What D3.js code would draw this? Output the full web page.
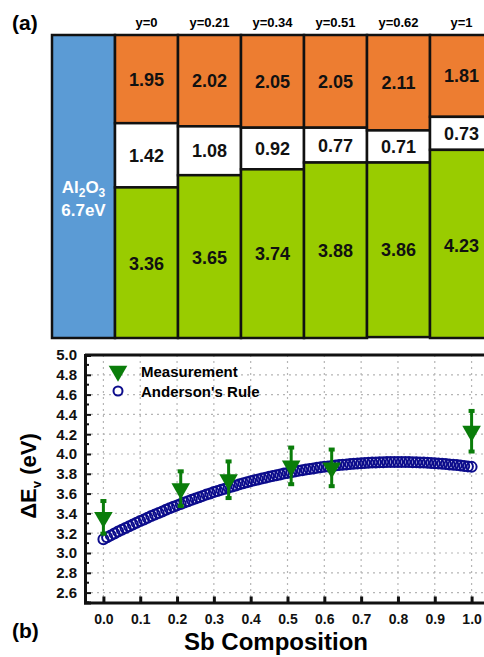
<!DOCTYPE html>
<html>
<head>
<meta charset="utf-8">
<script src="https://cdn.jsdelivr.net/npm/d3@7"></script>
<style>
  body { margin: 0; background: #fff; }
  svg { display: block; font-family: "Liberation Sans", Arial, sans-serif; }
</style>
</head>
<body>
<div id="chart"></div>
<script>
// ---- data (a): band alignment per Sb composition ----
const columns = ["y=0", "y=0.21", "y=0.34", "y=0.51", "y=0.62", "y=1"];
const conductionOffset = [1.95, 2.02, 2.05, 2.05, 2.11, 1.81];
const bandGap = [1.42, 1.08, 0.92, 0.77, 0.71, 0.73];
const valenceOffset = [3.36, 3.65, 3.74, 3.88, 3.86, 4.23];
const oxideGap = 6.7;

// ---- data (b): valence band offset vs Sb composition ----
const measX = [0, 0.21, 0.34, 0.51, 0.62, 1.0];
const measY = [3.36, 3.65, 3.74, 3.88, 3.86, 4.23];
const measErr = [0.17, 0.18, 0.19, 0.19, 0.19, 0.21];

const andersonX = [0.00, 0.01, 0.02, 0.03, 0.04, 0.05, 0.06, 0.07, 0.08, 0.09,
  0.10, 0.11, 0.12, 0.13, 0.14, 0.15, 0.16, 0.17, 0.18, 0.19,
  0.20, 0.21, 0.22, 0.23, 0.24, 0.25, 0.26, 0.27, 0.28, 0.29,
  0.30, 0.31, 0.32, 0.33, 0.34, 0.35, 0.36, 0.37, 0.38, 0.39,
  0.40, 0.41, 0.42, 0.43, 0.44, 0.45, 0.46, 0.47, 0.48, 0.49,
  0.50, 0.51, 0.52, 0.53, 0.54, 0.55, 0.56, 0.57, 0.58, 0.59,
  0.60, 0.61, 0.62, 0.63, 0.64, 0.65, 0.66, 0.67, 0.68, 0.69,
  0.70, 0.71, 0.72, 0.73, 0.74, 0.75, 0.76, 0.77, 0.78, 0.79,
  0.80, 0.81, 0.82, 0.83, 0.84, 0.85, 0.86, 0.87, 0.88, 0.89,
  0.90, 0.91, 0.92, 0.93, 0.94, 0.95, 0.96, 0.97, 0.98, 0.99, 1.00];
const andersonY = [3.140, 3.159, 3.178, 3.197, 3.216, 3.234, 3.252, 3.270, 3.288, 3.305,
  3.323, 3.339, 3.356, 3.373, 3.389, 3.405, 3.420, 3.436, 3.451, 3.466,
  3.481, 3.495, 3.509, 3.523, 3.537, 3.551, 3.564, 3.577, 3.590, 3.602,
  3.615, 3.627, 3.638, 3.650, 3.661, 3.672, 3.683, 3.694, 3.704, 3.714,
  3.724, 3.734, 3.743, 3.752, 3.761, 3.770, 3.778, 3.786, 3.794, 3.802,
  3.809, 3.816, 3.823, 3.830, 3.837, 3.843, 3.849, 3.854, 3.860, 3.865,
  3.870, 3.875, 3.879, 3.884, 3.888, 3.891, 3.895, 3.898, 3.901, 3.904,
  3.907, 3.909, 3.911, 3.913, 3.914, 3.916, 3.917, 3.918, 3.918, 3.919,
  3.919, 3.919, 3.918, 3.918, 3.917, 3.916, 3.914, 3.913, 3.911, 3.909,
  3.907, 3.904, 3.901, 3.898, 3.895, 3.891, 3.888, 3.884, 3.879, 3.875, 3.870];

const yTicks = [2.6, 2.8, 3.0, 3.2, 3.4, 3.6, 3.8, 4.0, 4.2, 4.4, 4.6, 4.8, 5.0];
const xTicks = [0, 0.1, 0.2, 0.3, 0.4, 0.5, 0.6, 0.7, 0.8, 0.9, 1.0];

const width = 484, height = 657;
const svg = d3.select("#chart").append("svg")
  .attr("width", width)
  .attr("height", height);

// =================== panel (a) ===================
const topA = 35, bottomA = 338;
const xBand = d3.scaleBand()
  .domain(["oxide"].concat(columns))
  .range([52, 52 + 63 * 7])
  .padding(0);
const eScale = d3.scaleLinear().domain([0, oxideGap]).range([0, bottomA - topA]);

const colors = { cb: "#ED7D31", gap: "#FFFFFF", vb: "#99CC00", oxide: "#5B9BD5" };

// oxide column
svg.append("rect")
  .attr("x", xBand("oxide"))
  .attr("y", topA)
  .attr("width", xBand.bandwidth())
  .attr("height", eScale(oxideGap))
  .attr("fill", colors.oxide)
  .attr("stroke", "#111")
  .attr("stroke-width", 2.5);

const oxText = svg.append("text")
  .attr("x", xBand("oxide") + xBand.bandwidth() / 2)
  .attr("y", 193)
  .attr("text-anchor", "middle")
  .attr("fill", "#fff")
  .style("font-weight", "bold")
  .style("font-size", "17px");
oxText.append("tspan").text("Al");
oxText.append("tspan").text("2").attr("dy", 4).style("font-size", "12px");
oxText.append("tspan").text("O").attr("dy", -4);
oxText.append("tspan").text("3").attr("dy", 4).style("font-size", "12px");
svg.append("text")
  .attr("x", xBand("oxide") + xBand.bandwidth() / 2)
  .attr("y", 216)
  .attr("text-anchor", "middle")
  .attr("fill", "#fff")
  .style("font-weight", "bold")
  .style("font-size", "17px")
  .text("6.7eV");

// stacked bands from the top
const bands = [];
columns.forEach((c, i) => {
  const parts = [
    { key: "cb", v: conductionOffset[i] },
    { key: "gap", v: bandGap[i] },
    { key: "vb", v: valenceOffset[i] }
  ];
  let acc = 0;
  parts.forEach(p => {
    bands.push({ col: c, key: p.key, v: p.v, start: acc });
    acc += p.v;
  });
});

const bandG = svg.append("g");
bandG.selectAll("rect")
  .data(bands)
  .enter().append("rect")
  .attr("x", d => xBand(d.col))
  .attr("y", d => topA + eScale(d.start))
  .attr("width", xBand.bandwidth())
  .attr("height", d => Math.min(eScale(d.v), bottomA - topA - eScale(d.start)))
  .attr("fill", d => colors[d.key])
  .attr("stroke", "#111")
  .attr("stroke-width", 2.5);

bandG.selectAll("text")
  .data(bands)
  .enter().append("text")
  .attr("x", d => xBand(d.col) + xBand.bandwidth() / 2)
  .attr("y", d => topA + eScale(d.start + d.v / 2))
  .attr("dy", "0.36em")
  .attr("text-anchor", "middle")
  .style("font-weight", "bold")
  .style("font-size", "18px")
  .attr("fill", "#111")
  .text(d => d.v.toFixed(2));

svg.selectAll(".colhead")
  .data(columns)
  .enter().append("text")
  .attr("class", "colhead")
  .attr("x", d => xBand(d) + xBand.bandwidth() / 2)
  .attr("y", 27)
  .attr("text-anchor", "middle")
  .style("font-weight", "bold")
  .style("font-size", "13px")
  .text(d => d);

svg.append("text")
  .attr("x", 12).attr("y", 30)
  .style("font-weight", "bold").style("font-size", "21px")
  .text("(a)");

// =================== panel (b) ===================
const x = d3.scaleLinear().domain([-0.05, 1.05]).range([85, 490]);
const y = d3.scaleLinear().domain([2.5, 5.0]).range([602.5, 355]);

const grid = svg.append("g")
  .attr("stroke", "#b5b5b5")
  .attr("stroke-width", 1.2)
  .attr("stroke-dasharray", "2,4");
grid.selectAll(".gx")
  .data(xTicks)
  .enter().append("line")
  .attr("x1", d => x(d)).attr("x2", d => x(d))
  .attr("y1", y(5.0)).attr("y2", y(2.5));
grid.selectAll(".gy")
  .data(yTicks.filter(t => t < 5))
  .enter().append("line")
  .attr("x1", x(-0.05)).attr("x2", x(1.05))
  .attr("y1", d => y(d)).attr("y2", d => y(d));

// x axis (ticks inward)
const xAxis = svg.append("g")
  .attr("transform", `translate(0,${y(2.5)})`)
  .call(d3.axisBottom(x).tickValues(xTicks).tickSize(-6).tickPadding(12)
    .tickFormat(d3.format(".1f")));
xAxis.select(".domain").attr("stroke-width", 3).attr("stroke", "#111");
xAxis.selectAll(".tick line").attr("stroke-width", 3).attr("stroke", "#111");
xAxis.selectAll("text")
  .style("font-size", "14px").style("font-weight", "bold").attr("fill", "#111");

// y axis (ticks inward)
const yAxis = svg.append("g")
  .attr("transform", `translate(${x(-0.05)},0)`)
  .call(d3.axisLeft(y).tickValues(yTicks).tickSize(-6).tickPadding(8)
    .tickFormat(d3.format(".1f")));
yAxis.select(".domain").attr("stroke-width", 3).attr("stroke", "#111");
yAxis.selectAll(".tick line").attr("stroke-width", 2).attr("stroke", "#111");
yAxis.selectAll("text")
  .style("font-size", "15px").style("font-weight", "bold").attr("fill", "#111");
// minor ticks
svg.append("g").selectAll("line")
  .data(yTicks.map(t => t - 0.1))
  .enter().append("line")
  .attr("x1", x(-0.05)).attr("x2", x(-0.05) + 4)
  .attr("y1", d => y(d)).attr("y2", d => y(d))
  .attr("stroke", "#111").attr("stroke-width", 2);

// top frame line
svg.append("line")
  .attr("x1", x(-0.05)).attr("x2", x(1.05))
  .attr("y1", y(5.0)).attr("y2", y(5.0))
  .attr("stroke", "#111").attr("stroke-width", 3);

// Anderson's rule circles
svg.append("g").selectAll("circle")
  .data(andersonX.map((v, i) => [v, andersonY[i]]))
  .enter().append("circle")
  .attr("cx", d => x(d[0]))
  .attr("cy", d => y(d[1]))
  .attr("r", 5)
  .attr("fill", "none")
  .attr("stroke", "#0c0c8c")
  .attr("stroke-width", 2);

// measurement with error bars
const green = "#0a7d0a";
const meas = measX.map((v, i) => ({ x: v, y: measY[i], e: measErr[i] }));
const mG = svg.append("g");
mG.selectAll(".eb")
  .data(meas)
  .enter().append("line")
  .attr("x1", d => x(d.x)).attr("x2", d => x(d.x))
  .attr("y1", d => y(d.y + d.e)).attr("y2", d => y(d.y - d.e))
  .attr("stroke", green).attr("stroke-width", 3);
mG.selectAll(".capT")
  .data(meas)
  .enter().append("rect")
  .attr("x", d => x(d.x) - 3).attr("y", d => y(d.y + d.e) - 1.5)
  .attr("width", 6).attr("height", 4)
  .attr("fill", green);
mG.selectAll(".capB")
  .data(meas)
  .enter().append("rect")
  .attr("x", d => x(d.x) - 3).attr("y", d => y(d.y - d.e) - 2.5)
  .attr("width", 6).attr("height", 4)
  .attr("fill", green);
const tri = d3.symbol().type(d3.symbolTriangle).size(150);
mG.selectAll(".tri")
  .data(meas)
  .enter().append("path")
  .attr("d", tri)
  .attr("transform", d => `translate(${x(d.x)},${y(d.y)}) rotate(180)`)
  .attr("fill", green);

// legend
svg.append("path")
  .attr("d", tri)
  .attr("transform", "translate(118,371) rotate(180)")
  .attr("fill", green);
svg.append("circle")
  .attr("cx", 118).attr("cy", 391).attr("r", 4.5)
  .attr("fill", "none").attr("stroke", "#0c0c8c").attr("stroke-width", 2);
svg.append("text").attr("x", 141).attr("y", 377)
  .style("font-size", "15px").style("font-weight", "bold").text("Measurement");
svg.append("text").attr("x", 141).attr("y", 397)
  .style("font-size", "15px").style("font-weight", "bold").text("Anderson's Rule");

// axis titles
svg.append("text")
  .attr("x", 276).attr("y", 650)
  .attr("text-anchor", "middle")
  .style("font-size", "24px").style("font-weight", "bold")
  .text("Sb Composition");

const yTitle = svg.append("text")
  .attr("transform", "translate(36,476) rotate(-90)")
  .attr("text-anchor", "middle")
  .style("font-size", "22px").style("font-weight", "bold");
yTitle.append("tspan").text("ΔE");
yTitle.append("tspan").text("v").attr("dy", 5).style("font-size", "13px");
yTitle.append("tspan").text(" (eV)").attr("dy", -5);

svg.append("text")
  .attr("x", 12).attr("y", 638)
  .style("font-weight", "bold").style("font-size", "21px")
  .text("(b)");
</script>
</body>
</html>
